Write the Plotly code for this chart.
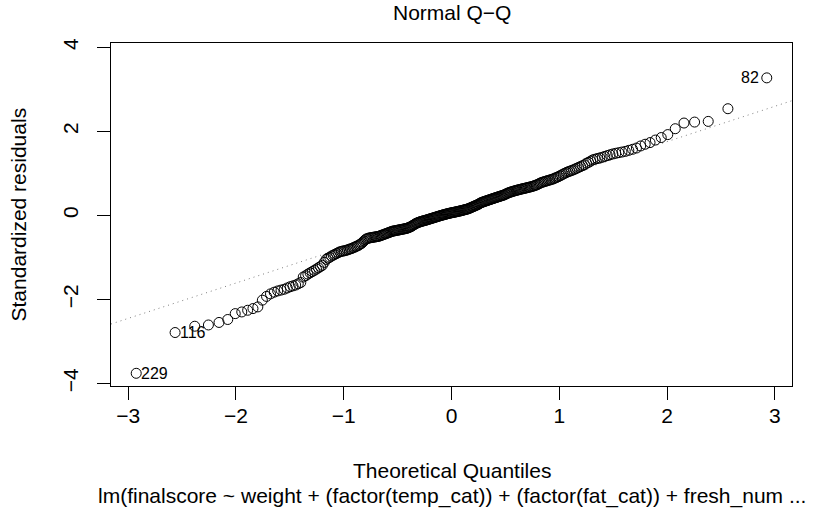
import numpy as np
import plotly.graph_objects as go
from statistics import NormalDist

# Sorted standardized residuals (n = 290)
lower_tail = [-3.76, -2.79, -2.64, -2.61, -2.55, -2.48, -2.34, -2.30, -2.26, -2.22,
              -2.18, -2.02, -1.93, -1.87, -1.83, -1.80, -1.78, -1.76, -1.73]
lower_mid = [-1.70, -1.68, -1.66, -1.63, -1.60, -1.47, -1.44, -1.40, -1.37, -1.34,
             -1.31, -1.28, -1.25, -1.22, -1.19, -1.12, -1.05, -1.02, -1.00, -0.97,
             -0.95, -0.93, -0.91, -0.89, -0.87, -0.86, -0.85,
             -0.845, -0.835, -0.825, -0.81, -0.80, -0.79, -0.77, -0.76, -0.74, -0.73,
             -0.71, -0.69, -0.67, -0.64, -0.61, -0.58, -0.56, -0.55, -0.54, -0.535,
             -0.53, -0.525, -0.52, -0.515, -0.51, -0.505, -0.50, -0.49, -0.48, -0.47,
             -0.46, -0.45, -0.44, -0.43, -0.42, -0.41, -0.40, -0.39, -0.38, -0.375,
             -0.37, -0.365, -0.36, -0.355]
center = [-0.350, -0.345, -0.340, -0.335, -0.330, -0.325, -0.320, -0.315, -0.310, -0.30,
          -0.29, -0.28, -0.27, -0.255, -0.24, -0.225, -0.21, -0.195, -0.185, -0.175,
          -0.165, -0.158, -0.150, -0.143, -0.136, -0.130,
          -0.125, -0.118, -0.111, -0.104, -0.097, -0.090, -0.083, -0.076, -0.069, -0.062,
          -0.055, -0.048, -0.041, -0.034, -0.027, -0.020, -0.013, -0.006, 0.000, 0.006,
          0.012, 0.018, 0.024, 0.030, 0.036, 0.042, 0.047, 0.052, 0.057,
          0.062, 0.066, 0.070, 0.075, 0.080, 0.085, 0.090, 0.095, 0.100, 0.105,
          0.110, 0.116, 0.122, 0.128, 0.134, 0.140, 0.146, 0.152, 0.160, 0.170,
          0.180, 0.190, 0.200, 0.210, 0.220, 0.230, 0.240, 0.250, 0.260,
          0.275, 0.290, 0.300, 0.310, 0.318, 0.326, 0.334, 0.342, 0.350, 0.358,
          0.366, 0.374, 0.382, 0.390, 0.398, 0.406, 0.414, 0.422, 0.430, 0.438,
          0.446, 0.454, 0.462, 0.470, 0.478, 0.486]
upper_mid = [0.500, 0.512, 0.524, 0.535, 0.545, 0.553, 0.561, 0.569, 0.577, 0.585,
             0.592, 0.599, 0.606, 0.613, 0.620, 0.627, 0.633, 0.639, 0.646, 0.653,
             0.660, 0.667, 0.674, 0.681,
             0.69, 0.70, 0.71, 0.72, 0.735, 0.75, 0.765, 0.78, 0.79, 0.80,
             0.81, 0.82, 0.83, 0.84, 0.85, 0.86, 0.875, 0.89, 0.905, 0.92,
             0.94, 0.96, 0.98, 1.00, 1.02, 1.035, 1.05, 1.065, 1.08, 1.10,
             1.12, 1.14, 1.16, 1.18, 1.20]
upper_tail = [1.24, 1.26, 1.29, 1.32, 1.335, 1.35, 1.365, 1.38, 1.40, 1.42,
              1.44, 1.46, 1.475, 1.49, 1.505, 1.52, 1.545, 1.57, 1.60,
              1.65, 1.69, 1.73, 1.79, 1.85, 1.92, 2.06, 2.195, 2.218, 2.234,
              2.536, 3.27]

# labelled (most extreme) observations: label and rank in the sorted residuals
id_labels = ["229", "116", "82"]
id_ranks = [0, 1, 289]

x_ticks = [-3, -2, -1, 0, 1, 2, 3]
y_ticks = [-4, -2, 0, 2, 4]

resid = np.array(lower_tail + lower_mid + center + upper_mid + upper_tail)
n = len(resid)
nd = NormalDist()
theo = np.array([nd.inv_cdf((i - 0.5) / n) for i in range(1, n + 1)])

# qqline through the quartiles
yq = np.quantile(resid, [0.25, 0.75])
xq = np.array([nd.inv_cdf(0.25), nd.inv_cdf(0.75)])
slope = (yq[1] - yq[0]) / (xq[1] - xq[0])
intercept = yq[0] - slope * xq[0]

# R-style axis limits
x0, x1 = theo.min(), theo.max()
dx = 0.04 * (x1 - x0)
xrange = [x0 - dx, x1 + dx]
y0, y1 = resid.min(), resid.max()
y1 = y1 + 0.075 * (y1 - y0)
dy = 0.04 * (y1 - y0)
yrange = [y0 - dy, y1 + dy]

FONT = "Liberation Sans, Arial, sans-serif"
FS = 21

fig = go.Figure()
fig.add_trace(go.Scatter(
    x=xrange, y=[intercept + slope * v for v in xrange], mode="lines",
    line=dict(color="#7f7f7f", width=1, dash="1px,4px"), hoverinfo="skip",
    showlegend=False))
fig.add_trace(go.Scatter(
    x=theo, y=resid, mode="markers",
    marker=dict(symbol="circle-open", size=10, color="black", line=dict(width=1, color="black")),
    showlegend=False))

for lab, r in zip(id_labels, id_ranks):
    right = theo[r] > 0
    fig.add_annotation(x=theo[r], y=resid[r], text=lab, showarrow=False,
                       xanchor="right" if right else "left",
                       xshift=-6 if right else 3,
                       font=dict(family=FONT, size=16, color="black"))

fig.add_annotation(text="Normal Q\u2212Q", xref="paper", yref="paper", x=0.5, y=1,
                   yanchor="middle", yshift=31, showarrow=False,
                   font=dict(family=FONT, size=FS, color="black"))
fig.add_annotation(text="Theoretical Quantiles", xref="paper", yref="paper", x=0.5, y=0,
                   yanchor="middle", yshift=-84, showarrow=False,
                   font=dict(family=FONT, size=FS, color="black"))
fig.add_annotation(text="lm(finalscore ~ weight + (factor(temp_cat)) + (factor(fat_cat)) + fresh_num ...",
                   xref="paper", yref="paper", x=0.5, y=0,
                   yanchor="middle", yshift=-110, showarrow=False,
                   font=dict(family=FONT, size=FS, color="black"))
fig.add_annotation(text="Standardized residuals", xref="paper", yref="paper", x=0, y=0.5,
                   xanchor="center", xshift=-93, textangle=-90, showarrow=False,
                   font=dict(family=FONT, size=FS, color="black"))

axis_common = dict(showgrid=False, zeroline=False, showline=True, linecolor="black",
                   linewidth=1, mirror=True, ticks="outside", ticklen=13, tickwidth=1,
                   tickcolor="black", tickfont=dict(family=FONT, size=FS, color="black"))
fig.update_xaxes(range=xrange, tickvals=x_ticks, ticklabelstandoff=-2, **axis_common)
fig.update_yaxes(range=yrange, tickvals=y_ticks, tickangle=-90, ticklabelstandoff=11, **axis_common)

fig.update_layout(width=816, height=520, margin=dict(l=111, r=24, t=43, b=134),
                  plot_bgcolor="white", paper_bgcolor="white",
                  font=dict(family=FONT, size=FS, color="black"))

fig.write_html("out.html", config={"displayModeBar": False},
               post_script="document.body.style.margin='0';")
